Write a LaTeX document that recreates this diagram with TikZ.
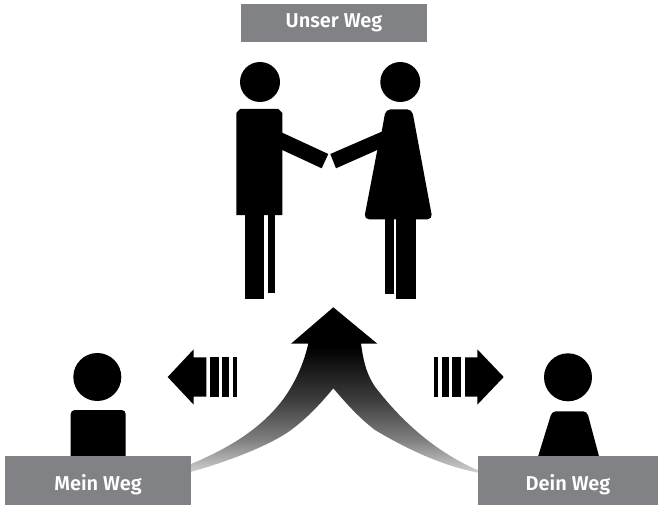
\documentclass[tikz,border=0pt]{standalone}
\usepackage{fontspec}
\setsansfont[BoldFont={Fira Sans SemiBold}]{Fira Sans}
\usepackage{tikz}
\usetikzlibrary{positioning}

\definecolor{wegGray}{HTML}{808285}

\pgfdeclareverticalshading{wegfade}{100bp}{
  color(0bp)=(black!18);
  color(25bp)=(black!18);
  color(35bp)=(black!50);
  color(47bp)=(black!76);
  color(63bp)=(black);
  color(100bp)=(black)}

\begin{document}
\begin{tikzpicture}[
  x=1pt, y=-1pt,
  every node/.style = {font=\sffamily\bfseries\fontsize{20}{22}\selectfont},
  wegbox/.style = {rectangle, fill=wegGray, text=white, inner sep=0pt,
                   minimum width=#1},
  solid/.style  = {fill=black},
]
\useasboundingbox (0,0) rectangle (658,505);

%% ── Central arrow ─────────────────────────────────────────────────────────
\path[shading=wegfade]
  (333.3,307.3) -- (377.3,343.7) -- (361,343.7)
  .. controls (364,366) and (368,376) .. (375,386.7)
  .. controls (396,414) and (430,450) .. (480,471.2)
  -- (480,473)
  .. controls (440,466) and (400,445) .. (375,430)
  .. controls (358,417) and (345,402) .. (333.3,388.3)
  .. controls (322,402) and (306,420) .. (286.7,433)
  .. controls (262,449) and (220,464) .. (189,472.4)
  -- (189,464.8)
  .. controls (220,452) and (260,432) .. (285,396.7)
  .. controls (295,382) and (303,366) .. (308.3,343.7)
  -- (291,343.7) -- cycle;

%% ── Man and woman ─────────────────────────────────────────────────────────
\fill[solid] (260,82) circle[radius=20];
\fill[solid]
  (236.3,215) -- (236.3,113) -- (240,109) -- (278.5,109) -- (282.3,113)
  -- (282.3,132.7) -- (328.3,154) -- (321.7,168.3) -- (282.3,150)
  -- (282.3,215) -- cycle;
\fill[solid] (245.3,215) rectangle (264.3,298.7);
\fill[solid] (267.7,215) rectangle (275,293.3);

\fill[solid] (400.3,82) circle[radius=20];
\fill[solid, rounded corners=5pt]
  (385.7,109.3) -- (412,109.3) -- (432.5,219.3) -- (364,219.3) -- (377.3,150)
  -- (381.7,131.7) -- cycle;
\fill[solid]
  (381.7,131.7) -- (330.3,154) -- (336,168.3) -- (377.3,150) -- (385,150) -- (385,131) -- cycle;
\fill[solid] (385.3,215) rectangle (394,294.3);
\fill[solid] (396.3,215) rectangle (416.3,299.3);

%% ── Side arrows ───────────────────────────────────────────────────────────
\fill[solid]
  (167.7,377) -- (193.7,349.3) -- (193.7,357.3) -- (206.3,357.3)
  -- (206.3,396.7) -- (193.7,396.7) -- (193.7,404.7) -- cycle;
\fill[solid] (210,357.3) rectangle (219,396.7);
\fill[solid] (222,357.3) rectangle (229.3,396.7);
\fill[solid] (233,357.3) rectangle (237,396.7);

\fill[solid]
  (503.7,377) -- (477.3,349.3) -- (477.3,357.3) -- (465,357.3)
  -- (465,396.7) -- (477.3,396.7) -- (477.3,404.7) -- cycle;
\fill[solid] (434,357.3) rectangle (438,396.7);
\fill[solid] (442,357.3) rectangle (449.3,396.7);
\fill[solid] (452,357.3) rectangle (461,396.7);

%% ── Lower persons ─────────────────────────────────────────────────────────
\fill[solid] (97.3,377) circle[radius=24];
\fill[solid, rounded corners=4pt]
  (70.7,460) -- (70.7,410) -- (125.7,410) -- (125.7,460) -- cycle;

\fill[solid] (568,377.3) circle[radius=24];
\fill[solid, rounded corners=4pt]
  (537,460) -- (552,411.3) -- (587,411.3) -- (600,460) -- cycle;

%% ── Labels ────────────────────────────────────────────────────────────────
\node[wegbox=186pt, text height=24pt, text depth=14pt] at (334,23) (unser) {Unser Weg};
\node[wegbox=186pt, text height=34pt, text depth=15pt] at (98,480.5) (mein) {Mein Weg};
\node[wegbox=180pt, text height=34pt, text depth=15pt] at (568,480.5) (dein) {Dein Weg};

\end{tikzpicture}
\end{document}
